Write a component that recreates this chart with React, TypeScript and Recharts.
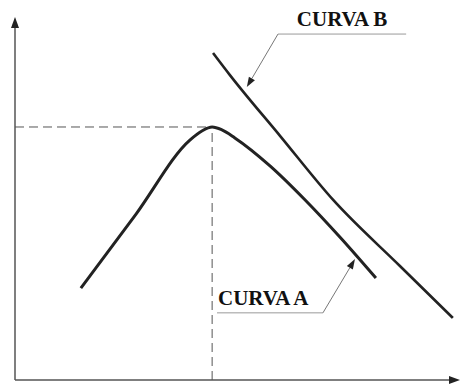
import React from 'react';
import { LineChart, Line, XAxis, YAxis, ReferenceLine } from 'recharts';

// curve A: rises to a peak then falls
const curveAX = [14.8, 27.2, 39.3, 42.0, 44.3, 46.5, 49.4, 57.3, 65.2, 73.0, 81.1];
const curveAY = [25.3, 45.7, 66.1, 68.6, 69.7, 68.9, 66.7, 59.0, 49.6, 39.4, 28.1];

// curve B: nearly straight falling line
const curveBX = [44.5, 48.3, 59.6, 71.5, 86.5, 98.4];
const curveBY = [90.1, 84.0, 67.2, 49.6, 31.4, 17.1];

const peak = { x: 44.3, y: 69.7 };

// annotation leaders: label, leader line, arrow target
const labelB = { text: 'CURVA B', x1: 59.1, x2: 87.9, y: 95.3, tx: 52.1, ty: 80.7, align: 'middle' };
const labelA = { text: 'CURVA A', x1: 45.4, x2: 69.2, y: 18.5, tx: 76.4, ty: 33.3, align: 'start' };

const dataA = curveAX.map((x, i) => ({ x, y: curveAY[i] }));
const dataB = curveBX.map((x, i) => ({ x, y: curveBY[i] }));

const arrowShape = (color: string, width: number, len: number, half: number) => (props: any) => {
  const { x1, y1, x2, y2 } = props;
  const dx = x2 - x1;
  const dy = y2 - y1;
  const d = Math.sqrt(dx * dx + dy * dy) || 1;
  const ux = dx / d;
  const uy = dy / d;
  const bx = x2 - ux * len;
  const by = y2 - uy * len;
  const pts = `${x2},${y2} ${bx - uy * half},${by + ux * half} ${bx + uy * half},${by - ux * half}`;
  return (
    <g>
      <line x1={x1} y1={y1} x2={bx} y2={by} stroke={color} strokeWidth={width} />
      <polygon points={pts} fill="#222" />
    </g>
  );
};

const leaderShape = (text: string, align: string) => (props: any) => {
  const { x1, y1, x2 } = props;
  const tx = align === 'middle' ? (x1 + x2) / 2 : x1 + 1;
  return (
    <g>
      <line x1={x1} y1={y1} x2={x2} y2={y1} stroke="#999" strokeWidth={1} />
      <text
        x={tx}
        y={y1 - 8}
        textAnchor={align}
        fontFamily="'Liberation Serif', 'Times New Roman', serif"
        fontWeight="bold"
        fontSize={21}
        fill="#111"
      >
        {text}
      </text>
    </g>
  );
};

export default function App() {
  return (
    <div style={{ position: 'absolute', left: 0, top: 0, background: '#fff' }}>
      <LineChart width={461} height={388} margin={{ top: 17, right: 1, bottom: 8, left: 15 }}>
        <XAxis type="number" dataKey="x" domain={[0, 100]} hide />
        <YAxis type="number" dataKey="y" domain={[0, 100]} hide width={0} />

        {/* axes with arrow heads */}
        <ReferenceLine segment={[{ x: 0, y: 0 }, { x: 0, y: 100 }]} shape={arrowShape('#555', 1.5, 11, 4)} />
        <ReferenceLine segment={[{ x: 0, y: 0 }, { x: 100, y: 0 }]} shape={arrowShape('#555', 1.5, 11, 4)} />

        {/* dashed guides to the peak */}
        <ReferenceLine segment={[{ x: 0, y: peak.y }, { x: peak.x, y: peak.y }]} stroke="#555" strokeWidth={1} strokeDasharray="9 5" />
        <ReferenceLine segment={[{ x: peak.x, y: 0 }, { x: peak.x, y: peak.y }]} stroke="#555" strokeWidth={1} strokeDasharray="9 5" />

        <Line data={dataA} dataKey="y" type="monotone" stroke="#222" strokeWidth={3} dot={false} isAnimationActive={false} />
        <Line data={dataB} dataKey="y" type="monotone" stroke="#222" strokeWidth={2.6} dot={false} isAnimationActive={false} />

        {/* labels */}
        <ReferenceLine segment={[{ x: labelB.x1, y: labelB.y }, { x: labelB.x2, y: labelB.y }]} shape={leaderShape(labelB.text, labelB.align)} />
        <ReferenceLine segment={[{ x: labelB.x1, y: labelB.y }, { x: labelB.tx, y: labelB.ty }]} shape={arrowShape('#777', 1, 10, 3.5)} />
        <ReferenceLine segment={[{ x: labelA.x1, y: labelA.y }, { x: labelA.x2, y: labelA.y }]} shape={leaderShape(labelA.text, labelA.align)} />
        <ReferenceLine segment={[{ x: labelA.x2, y: labelA.y }, { x: labelA.tx, y: labelA.ty }]} shape={arrowShape('#777', 1, 10, 3.5)} />
      </LineChart>
    </div>
  );
}
